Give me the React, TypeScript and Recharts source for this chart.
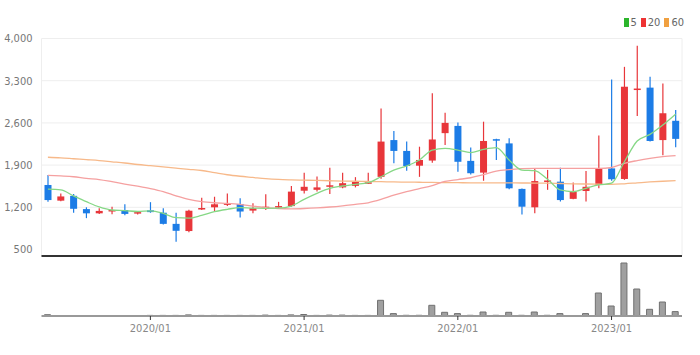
import React from 'react';
import { ComposedChart, Bar, Line, XAxis, YAxis, CartesianGrid } from 'recharts';

const months = [
  '2019/05','2019/06','2019/07','2019/08','2019/09','2019/10','2019/11','2019/12',
  '2020/01','2020/02','2020/03','2020/04','2020/05','2020/06','2020/07','2020/08','2020/09','2020/10','2020/11','2020/12',
  '2021/01','2021/02','2021/03','2021/04','2021/05','2021/06','2021/07','2021/08','2021/09','2021/10','2021/11','2021/12',
  '2022/01','2022/02','2022/03','2022/04','2022/05','2022/06','2022/07','2022/08','2022/09','2022/10','2022/11','2022/12',
  '2023/01','2023/02','2023/03','2023/04','2023/05','2023/06',
];
const opens = [1570,1310,1390,1170,1100,1135,1155,1095,1150,1110,925,806,1166,1200,1245,1255,1145,1185,1195,1220,1475,1490,1540,1530,1555,1590,1705,2315,2135,1890,1975,2430,2550,1970,1775,2330,2260,1505,1200,1630,1625,1340,1470,1570,1845,1670,3145,3185,2315,2635];
const highs = [1735,1430,1420,1200,1185,1210,1250,1140,1285,1185,1110,1160,1360,1375,1430,1350,1265,1415,1290,1555,1775,1710,1855,1775,1700,1775,2840,2465,2290,2205,3090,2770,2605,2190,2620,2335,2345,1510,1845,1820,1855,1610,1800,2390,3320,3530,3880,3365,3255,2815];
const lows = [1290,1300,1110,1020,1090,1085,1070,1080,1110,915,630,785,1155,1125,1220,1030,1100,1155,1180,1210,1430,1460,1420,1515,1530,1588,1675,1930,1805,1705,1940,2235,1790,1745,1640,1985,1500,1080,1100,1490,1295,1335,1295,1515,1640,1655,2715,2290,2065,2195];
const closes = [1320,1380,1175,1100,1140,1155,1090,1120,1120,925,810,1143,1188,1250,1265,1130,1185,1210,1220,1460,1540,1530,1565,1600,1620,1615,2290,2135,1885,1985,2325,2600,1955,1765,2300,2310,1515,1210,1635,1645,1320,1460,1540,1845,1665,3200,3170,2300,2760,2335];
const ma5 = [1500,1490,1390,1293,1205,1155,1145,1130,1140,1100,1027,1020,1065,1127,1166,1195,1185,1183,1185,1221,1332,1432,1515,1553,1581,1608,1707,1818,1885,1984,2150,2178,2150,2106,2160,2190,1984,1818,1807,1664,1487,1458,1515,1570,1600,1956,2300,2410,2565,2745];
const ma20 = [1730,1720,1707,1680,1660,1625,1586,1550,1510,1460,1390,1330,1293,1275,1266,1250,1220,1195,1180,1175,1180,1190,1205,1225,1250,1275,1330,1400,1460,1510,1560,1630,1660,1690,1740,1800,1825,1840,1846,1846,1846,1846,1846,1846,1860,1930,1975,2012,2040,2056];
const ma60 = [2030,2020,2005,1990,1975,1955,1935,1910,1890,1870,1850,1830,1810,1775,1740,1715,1695,1675,1662,1655,1650,1645,1640,1635,1632,1628,1625,1620,1618,1615,1612,1610,1608,1606,1605,1605,1604,1603,1602,1600,1595,1590,1586,1583,1580,1590,1605,1620,1632,1641];
const volumes = [130,0,0,0,0,0,0,0,60,60,60,110,60,60,60,60,60,90,60,110,150,60,90,90,60,60,1570,240,70,70,1070,370,240,70,400,70,370,70,400,70,240,0,240,2300,1000,5300,2700,670,1400,440];

const yearTicks = ['2020/01', '2021/01', '2022/01', '2023/01'];
const priceTicks = [500, 1200, 1900, 2600, 3300, 4000];
const legendItems = [
  { label: '5', color: '#2cb52c' },
  { label: '20', color: '#ee3333' },
  { label: '60', color: '#f0a040' },
];

const RED = '#e8363a';
const BLUE = '#1c7ce6';
const FONT = "'Liberation Sans Narrow', 'DejaVu Sans Condensed', 'Liberation Sans', sans-serif";

const data = months.map((m, i) => ({
  month: m,
  open: opens[i],
  high: highs[i],
  low: lows[i],
  close: closes[i],
  ma5: ma5[i],
  ma20: ma20[i],
  ma60: ma60[i],
  volume: volumes[i],
}));

const Candle = (props: any) => {
  const { x, y, width, height, payload } = props;
  if (x == null || y == null || !payload) return null;
  const top = Math.min(y, y + height);
  const h = Math.abs(height);
  const { open, close, high, low } = payload;
  const span = high - low || 1;
  const yOf = (v: number) => top + ((high - v) / span) * h;
  const up = close >= open;
  const color = up ? RED : BLUE;
  const bTop = yOf(Math.max(open, close));
  const bBot = yOf(Math.min(open, close));
  const cx = x + width / 2;
  return (
    <g>
      <line x1={cx} x2={cx} y1={top} y2={top + h} stroke={color} strokeWidth={1.2} />
      <rect x={x} y={bTop} width={width} height={Math.max(bBot - bTop, 1.5)} fill={color} />
    </g>
  );
};

export default function App() {
  return (
    <div style={{ position: 'absolute', left: 0, top: 0, width: 700, height: 355, background: '#fff', fontFamily: FONT }}>
      <div style={{ position: 'absolute', left: 0, top: 0 }}>
        <ComposedChart width={700} height={258} data={data} margin={{ top: 38.5, right: 18, bottom: 0, left: 0 }}>
          <CartesianGrid stroke="#eeeeee" strokeWidth={1} />
          <XAxis
            dataKey="month"
            ticks={yearTicks}
            interval={0}
            tick={false}
            tickLine={false}
            axisLine={{ stroke: '#333', strokeWidth: 2 }}
            height={2}
          />
          <YAxis
            domain={[392, 4000]}
            ticks={priceTicks}
            width={41.5}
            tickLine={false}
            axisLine={false}
            tickMargin={3}
            tick={{ fontSize: 11, fill: '#777', fontFamily: FONT }}
            tickFormatter={(v: number) => v.toLocaleString('en-US')}
          />
          <Line dataKey="ma60" type="monotone" stroke="#f7b98a" strokeWidth={1.3} dot={false} isAnimationActive={false} />
          <Line dataKey="ma20" type="monotone" stroke="#f5a0a0" strokeWidth={1.3} dot={false} isAnimationActive={false} />
          <Line dataKey="ma5" type="monotone" stroke="#86d886" strokeWidth={1.3} dot={false} isAnimationActive={false} />
          <Bar
            dataKey={(d: any) => [d.low, d.high]}
            shape={<Candle />}
            barSize={7}
            isAnimationActive={false}
          />
        </ComposedChart>
      </div>
      <div style={{ position: 'absolute', left: 0, top: 256 }}>
        <ComposedChart width={700} height={99} data={data} margin={{ top: 6, right: 18, bottom: 0, left: 41.5 }}>
          <XAxis
            dataKey="month"
            ticks={yearTicks}
            interval={0}
            height={39}
            tickSize={4}
            tickMargin={4}
            tickLine={{ stroke: '#333' }}
            axisLine={{ stroke: '#999', strokeWidth: 2 }}
            tick={{ fontSize: 11, fill: '#888', fontFamily: FONT }}
          />
          <YAxis hide domain={[0, 5400]} />
          <Bar dataKey="volume" fill="#a0a0a0" stroke="#707070" strokeWidth={1} barSize={6} isAnimationActive={false} />
        </ComposedChart>
      </div>
      <div style={{ position: 'absolute', top: 16, right: 16, display: 'flex', alignItems: 'center', fontSize: 11, color: '#666' }}>
        {legendItems.map((it) => (
          <div key={it.label} style={{ display: 'flex', alignItems: 'center', marginLeft: 4 }}>
            <span style={{ display: 'inline-block', width: 5, height: 9, background: it.color, marginRight: 2 }} />
            <span>{it.label}</span>
          </div>
        ))}
      </div>
    </div>
  );
}
